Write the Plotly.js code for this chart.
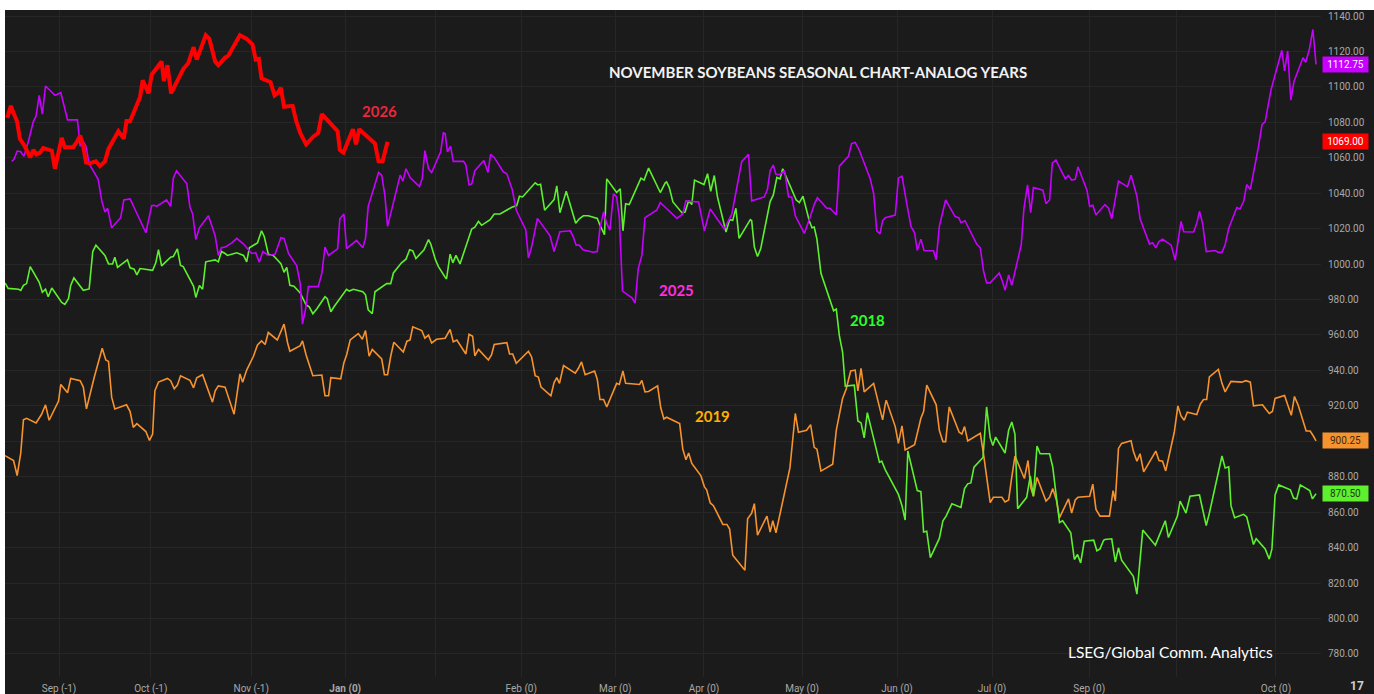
<!DOCTYPE html>
<html><head><meta charset="utf-8">
<script src="https://cdn.plot.ly/plotly-3.0.1.min.js"></script>
<style>
html,body{margin:0;padding:0;background:#ffffff;width:1374px;height:694px;overflow:hidden}
#chart{position:absolute;left:5px;top:10px;width:1369px;height:684px}
</style>
</head><body><div id="chart"></div><script>
// x = trading-day index of the seasonal window, y = price (cents/bu)
const monthTickDays = [12.0,32.4,54.7,75.6,95.6,114.7,135.6,155.3,177.1,198.2,219.3,240.9,260.4,282.4];
const monthTickLabels = ['Sep (-1)','Oct (-1)','Nov (-1)','<b>Jan (0)</b>','','Feb (0)','Mar (0)','Apr (0)','May (0)','Jun (0)','Jul (0)','Sep (0)','','Oct (0)'];
const priceTicks = [780,800,820,840,860,880,900,920,940,960,980,1000,1020,1040,1060,1080,1100,1120,1140];

const y2026 = [[0.5,1082.5],[1.3,1089.3],[2.2,1083.5],[2.7,1080.4],[3.3,1070.8],[4.4,1066.5],[5.6,1060.2],[6.3,1064.4],[7.0,1061.9],[7.8,1062.9],[8.5,1065.5],[10.4,1064.0],[11.1,1053.8],[12.6,1071.2],[13.3,1065.9],[15.2,1066.1],[15.9,1068.7],[16.7,1072.5],[17.3,1067.6],[18.0,1057.4],[18.9,1057.0],[20.2,1058.0],[21.1,1055.3],[22.2,1058.0],[23.0,1065.1],[25.2,1075.0],[26.4,1070.8],[27.0,1080.8],[27.8,1080.8],[30.0,1094.2],[30.6,1103.7],[31.9,1096.3],[32.6,1106.9],[34.8,1114.3],[35.3,1103.3],[36.1,1112.2],[36.9,1096.3],[39.6,1110.1],[40.7,1113.3],[41.9,1122.4],[42.6,1115.4],[44.6,1129.2],[45.4,1127.1],[46.7,1114.3],[47.4,1112.2],[48.9,1116.5],[49.6,1117.5],[51.1,1123.9],[52.2,1129.2],[53.7,1127.1],[55.0,1123.9],[55.7,1115.4],[56.4,1115.8],[57.0,1104.8],[59.0,1102.7],[59.9,1095.2],[60.5,1096.3],[61.3,1099.5],[62.0,1088.8],[63.9,1089.3],[64.7,1080.8],[65.6,1074.0],[66.9,1067.6],[68.5,1071.9],[69.6,1074.0],[70.4,1084.6],[72.2,1079.3],[73.9,1075.0],[74.4,1064.4],[75.2,1062.9],[77.3,1076.1],[78.0,1067.6],[78.7,1076.1],[80.4,1072.3],[82.2,1068.0],[83.0,1058.0],[83.9,1058.0],[85.0,1069.0]];

const y2025 = [[1.5,1058.0],[2.0,1059.1],[2.7,1063.8],[3.5,1063.4],[4.2,1060.8],[5.2,1069.3],[6.3,1080.4],[6.9,1083.5],[7.6,1095.2],[8.3,1084.6],[9.0,1100.5],[11.1,1095.2],[12.4,1096.7],[13.9,1081.4],[16.1,1081.4],[16.7,1066.5],[17.3,1069.7],[18.0,1066.5],[18.7,1056.6],[20.7,1047.9],[21.5,1035.7],[22.2,1029.4],[22.8,1031.5],[23.7,1020.5],[25.7,1026.2],[26.4,1036.2],[27.8,1036.8],[30.0,1025.1],[31.3,1017.7],[32.6,1033.0],[33.1,1033.2],[33.7,1032.6],[35.9,1036.2],[36.8,1032.6],[37.4,1048.5],[38.1,1052.7],[40.4,1045.3],[41.1,1032.1],[41.7,1028.3],[42.4,1013.9],[43.2,1020.5],[45.2,1027.3],[46.7,1016.0],[47.4,1004.9],[48.1,1009.2],[48.9,1009.6],
[50.4,1012.0],[51.5,1014.5],[53.0,1011.3],[54.8,1006.0],[55.7,1006.4],[56.5,1001.1],[57.3,1007.1],[58.5,1004.9],[60.0,1005.6],[61.3,1014.9],[62.0,1014.5],[63.0,1006.0],[64.8,999.2],[65.6,989.0],[66.1,966.1],[66.9,976.3],[67.4,987.3],[69.6,987.3],[70.4,994.8],[71.1,1009.6],[71.9,1004.9],[73.9,1008.6],[74.4,1025.6],[75.3,1028.3],[75.9,1008.8],[78.1,1013.4],[79.5,1009.2],[80.1,1014.5],[80.7,1032.6],[82.0,1043.2],[83.0,1051.7],[83.7,1050.2],[84.4,1038.9],[85.0,1021.3],[87.8,1050.2],[88.4,1046.8],[89.1,1053.8],[90.0,1048.9],[92.1,1043.8],[92.7,1048.1],[93.3,1064.0],[94.1,1053.8],[94.8,1051.7],[96.8,1063.4],[97.4,1074.0],[97.8,1073.6],
[98.3,1063.4],[99.0,1066.5],[99.6,1058.0],[101.9,1058.0],[102.4,1055.9],[103.1,1044.7],[103.7,1045.3],[104.4,1052.7],[106.4,1058.5],[107.3,1051.7],[107.9,1061.9],[108.7,1060.2],[110.7,1052.1],[111.5,1051.0],[112.1,1046.4],[112.7,1042.1],[113.6,1030.4],[115.7,1019.4],[116.3,1003.5],[117.0,1009.6],[118.3,1025.8],[121.1,1016.0],[122.0,1007.1],[123.3,1018.3],[125.6,1018.8],[126.3,1015.2],[126.9,1010.7],[127.6,1010.7],[128.4,1008.1],[130.7,1006.7],[131.6,1007.1],[132.2,1020.5],[133.0,1029.4],[133.7,1023.0],[134.4,1019.2],[135.2,1039.6],[135.9,1037.9],[136.5,1026.2],[137.2,984.8],[139.3,981.0],[140.0,978.0],[140.7,997.5],[141.5,1004.9],[142.2,1026.2],[144.8,1030.4],[145.6,1034.7],[146.7,1032.1],
[147.4,1030.4],[149.3,1025.8],[150.6,1028.3],[151.3,1035.7],[154.1,1035.1],[154.7,1027.3],[155.4,1018.8],[156.7,1031.1],[158.1,1026.2],[159.8,1019.8],[161.5,1028.3],[162.6,1044.2],[163.7,1058.0],[165.2,1061.9],[165.9,1035.7],[167.8,1037.2],[168.7,1037.9],[169.4,1042.1],[170.0,1052.7],[170.7,1055.9],[171.3,1050.6],[172.2,1050.6],[173.2,1052.7],[174.1,1037.9],[174.8,1037.9],[175.6,1027.3],[177.6,1017.3],[178.7,1025.1],[179.8,1033.6],[180.5,1037.5],[181.7,1034.3],[182.6,1031.5],[183.3,1031.5],[184.7,1027.7],[185.4,1055.3],[186.5,1058.0],[187.4,1060.8],[188.1,1068.0],[188.9,1068.7],[189.8,1064.4],[192.2,1048.5],[193.0,1040.0],[193.7,1018.8],[194.4,1017.1],[195.0,1024.5],[195.6,1026.2],
[197.8,1027.7],[198.5,1048.5],[199.3,1049.6],[200.4,1033.6],[201.3,1021.3],[202.1,1017.7],[202.7,1007.7],[203.5,1014.1],[204.2,1007.7],[206.3,1007.5],[206.9,1002.4],[207.6,1021.3],[209.0,1036.2],[211.1,1026.8],[211.9,1026.2],[212.4,1023.4],[213.3,1024.5],[215.9,1011.3],[216.7,1009.2],[217.4,996.4],[218.1,989.4],[218.9,989.4],[220.9,995.0],[221.5,991.1],[222.2,985.2],[223.0,993.9],[223.7,988.0],[225.8,1010.9],[226.4,1031.5],[227.2,1044.7],[227.9,1029.0],[228.5,1043.2],[230.6,1041.7],[231.3,1034.1],[232.1,1036.2],[232.7,1057.0],[233.5,1058.7],[235.6,1048.1],[236.3,1050.0],[237.0,1047.4],[237.8,1047.9],[238.4,1054.9],[240.4,1041.7],[241.0,1032.6],[241.7,1033.2],[242.4,1027.7],[244.4,1033.6],
[245.2,1031.5],[245.9,1025.6],[246.4,1032.6],[247.4,1046.8],[249.4,1043.6],[250.2,1050.2],[251.5,1038.3],[252.2,1025.6],[254.3,1011.3],[255.0,1012.0],[255.7,1009.2],[256.4,1012.8],[257.2,1014.1],[259.1,1010.7],[260.0,1002.2],[261.3,1024.1],[261.9,1018.3],[264.1,1018.1],[264.8,1023.0],[265.4,1029.8],[266.1,1023.0],[266.9,1007.1],[268.9,1007.7],[269.6,1006.6],[270.4,1006.6],[271.1,1010.9],[271.9,1020.2],[273.7,1031.9],[274.4,1031.1],[275.2,1035.3],[275.9,1044.9],[276.7,1042.1],[278.5,1066.1],[279.3,1078.7],[280.0,1080.4],[280.7,1090.5],[281.3,1098.4],[283.7,1120.7],[284.3,1109.0],[285.0,1120.3],[285.7,1092.5],[286.4,1103.1],[288.4,1116.5],[289.0,1113.9],[289.8,1121.1],[290.6,1132.4],[291.3,1112.75]];

const y2018 = [[0.0,989.4],[0.7,986.3],[3.0,985.8],[3.5,985.2],[4.1,988.0],[4.8,989.0],[5.6,998.6],[7.6,989.7],[8.3,984.1],[9.0,985.8],[9.6,981.6],[10.4,986.5],[12.6,978.4],[13.3,977.3],[14.1,980.5],[14.6,988.0],[15.3,992.2],[17.4,985.2],[18.7,986.0],[19.5,1007.1],[20.2,1010.7],[22.2,1004.9],[23.0,1000.1],[23.9,1000.1],[24.4,1003.9],[25.0,998.2],[27.2,1002.4],[27.8,997.9],[28.7,997.1],[29.3,993.9],[30.0,997.5],[32.8,996.5],[33.5,1000.7],[34.1,1008.1],[34.8,999.0],[36.8,1003.9],[37.4,1004.3],[38.3,1008.6],[39.0,999.2],[39.6,998.6],[41.9,987.5],[42.4,981.2],[43.2,988.0],[43.9,985.8],[44.6,1001.3],[46.7,1002.4],[47.4,1001.3],[48.1,1007.1],[48.9,1006.0],
[49.4,1004.9],[51.5,1006.4],[53.0,1004.9],[53.7,1001.3],[54.3,1009.2],[56.1,1012.0],[57.0,1018.8],[57.6,1015.6],[58.5,1005.6],[59.6,1004.9],[61.3,1000.3],[62.0,995.4],[62.6,998.2],[63.3,988.0],[64.2,987.5],[65.6,983.7],[66.9,976.9],[67.6,975.9],[68.4,972.0],[69.3,974.8],[71.1,981.6],[71.6,980.5],[72.4,973.1],[73.1,975.9],[75.3,983.3],[75.9,985.8],[76.5,984.8],[77.4,985.8],[79.5,984.4],[80.1,982.7],[80.7,974.2],[81.6,972.0],[82.2,984.4],[84.8,989.0],[85.7,989.0],[86.3,995.0],[88.1,1000.7],[89.1,1002.8],[89.9,1008.1],[90.6,1007.5],[91.3,1003.2],[93.1,1008.1],[94.1,1013.9],[94.6,1011.3],[95.6,1002.8],[96.3,998.6],[97.8,992.6],
[98.1,991.6],[98.9,1005.6],[99.5,1000.7],[100.2,1004.9],[101.1,1000.1],[103.7,1019.8],[104.4,1020.9],[105.2,1024.1],[105.9,1021.9],[107.8,1025.1],[108.7,1028.3],[110.0,1028.3],[112.6,1032.1],[113.7,1033.0],[114.3,1038.3],[115.0,1037.9],[117.0,1043.2],[117.8,1045.9],[118.4,1044.7],[119.0,1045.1],[119.9,1030.4],[122.0,1036.4],[122.6,1044.2],[123.3,1029.0],[124.7,1041.1],[126.8,1023.0],[127.6,1025.6],[128.5,1027.3],[129.6,1027.3],[131.6,1025.8],[132.2,1021.9],[133.2,1016.6],[133.7,1048.1],[135.9,1040.4],[136.7,1042.5],[137.3,1018.8],[137.9,1034.1],[138.7,1033.6],[141.3,1048.5],[142.0,1047.4],[143.0,1054.2],[145.6,1040.4],[146.7,1045.9],
[147.0,1046.4],[147.6,1043.2],[148.4,1035.1],[150.4,1029.0],[151.1,1029.4],[151.9,1035.7],[152.6,1033.6],[153.2,1047.4],[155.3,1044.9],[156.1,1051.0],[156.8,1041.1],[157.6,1050.0],[158.3,1037.9],[160.2,1018.1],[161.0,1025.1],[161.7,1024.7],[162.4,1031.5],[163.1,1014.5],[165.6,1025.1],[165.9,1024.5],[166.5,1009.6],[167.2,1004.3],[167.9,1008.6],[170.0,1035.3],[170.7,1038.9],[171.5,1048.9],[172.2,1048.1],[172.8,1053.8],[173.7,1048.5],[175.0,1041.1],[175.8,1036.2],[176.5,1034.7],[177.3,1038.3],[178.7,1024.5],[179.3,1020.5],[179.8,1020.9],[180.4,1014.1],[181.3,994.8],[184.1,973.7],[184.7,974.6],[185.4,959.3],[186.1,950.4],[186.7,931.2],[188.7,931.7],[189.5,911.5],[190.2,910.4],[190.9,901.9],[191.6,916.2],[194.3,888.1],[194.8,888.8],[195.6,883.9],
[198.5,870.1],[199.3,863.7],[200.0,855.6],[200.6,894.5],[202.7,872.2],[203.5,871.6],[204.1,848.8],[204.8,849.3],[205.6,834.4],[207.6,845.2],[208.4,855.2],[209.1,857.8],[210.4,864.8],[212.4,862.7],[213.2,873.3],[213.9,876.0],[214.6,876.5],[215.3,885.4],[217.3,890.9],[218.1,919.4],[218.9,902.0],[219.5,897.7],[220.1,902.4],[222.2,893.4],[223.0,906.2],[223.7,910.9],[224.4,904.1],[225.0,862.0],[227.0,868.4],[227.8,880.3],[228.5,869.0],[229.3,897.3],[230.0,893.0],[232.1,893.0],[232.8,885.4],[233.6,869.7],[234.3,854.2],[235.0,855.2],[236.8,848.4],[237.6,833.3],[238.3,836.1],[239.0,831.4],[239.8,843.6],[241.9,844.2],[242.6,838.2],[243.3,839.3],[244.1,844.2],[244.4,844.6],
[245.9,845.0],[246.7,831.9],[247.4,839.9],[248.1,832.9],[250.7,823.8],[251.5,813.8],[252.8,849.9],[255.6,841.4],[257.8,855.2],[258.5,845.7],[260.5,857.8],[261.1,866.3],[262.4,859.5],[263.3,869.0],[265.4,869.7],[266.9,852.5],[267.6,859.5],[270.4,891.7],[271.1,884.9],[271.9,885.6],[272.4,863.7],[273.2,856.9],[275.2,858.8],[275.9,857.3],[277.4,841.8],[278.0,845.0],[280.0,839.3],[280.9,833.5],[281.5,839.3],[282.2,869.7],[283.0,875.4],[285.6,872.6],[286.3,868.0],[287.0,867.5],[287.8,875.4],[289.9,872.2],[290.5,867.5],[291.3,870.5]];

const y2019 = [[0.0,891.9],[1.9,889.2],[2.7,880.7],[3.5,893.4],[4.1,912.1],[4.8,913.0],[6.9,910.4],[8.1,915.1],[9.0,920.6],[9.8,911.9],[11.9,922.7],[12.4,932.1],[13.9,927.4],[14.6,935.5],[16.7,934.2],[17.4,930.6],[18.1,918.3],[19.8,935.9],[21.6,952.5],[22.4,945.9],[23.0,945.1],[23.7,924.9],[24.4,918.3],[27.0,920.6],[27.8,916.8],[28.5,907.9],[29.3,910.0],[31.3,905.5],[32.1,900.5],[32.8,904.1],[33.3,928.5],[34.1,933.4],[36.1,935.5],[36.8,934.2],[37.6,929.6],[38.3,931.7],[39.0,937.0],[41.1,934.4],[41.9,930.2],[42.6,935.9],[43.9,937.6],[46.1,922.1],[46.7,928.5],[47.4,931.3],[48.9,930.6],
[50.9,915.3],[52.2,938.0],[52.8,933.4],[53.7,940.2],[55.2,948.0],[56.1,954.4],[57.0,956.7],[57.8,954.6],[58.5,961.4],[60.5,957.2],[62.0,966.1],[62.8,955.5],[63.3,950.8],[65.6,954.0],[66.1,956.7],[66.9,948.7],[68.4,937.0],[70.4,937.4],[71.1,925.7],[71.9,925.7],[72.4,935.9],[74.6,935.3],[75.3,944.4],[75.9,948.7],[76.7,957.2],[78.5,960.8],[79.4,957.6],[80.1,962.5],[80.9,948.0],[81.6,951.9],[83.7,946.5],[84.3,937.6],[85.0,937.6],[85.7,948.0],[86.4,955.9],[88.5,950.4],[89.3,956.5],[90.0,957.2],[90.6,964.6],[92.6,962.5],[93.3,958.2],[94.1,959.9],[94.8,955.5],[95.9,957.6],[97.8,958.2],
[98.9,963.1],[99.6,956.1],[100.4,957.2],[102.4,949.3],[103.1,960.4],[103.9,959.3],[104.4,948.2],[105.2,951.9],[107.4,945.9],[108.1,948.7],[108.7,954.6],[111.5,955.7],[112.1,949.3],[112.8,949.3],[113.6,944.0],[116.3,950.8],[117.0,947.6],[117.8,937.0],[118.5,936.3],[119.1,930.6],[121.3,925.7],[122.0,933.2],[122.6,935.9],[123.2,932.7],[124.1,942.7],[126.7,938.5],[127.4,941.2],[128.1,944.8],[128.9,937.6],[131.0,939.7],[131.6,934.9],[132.2,923.6],[133.0,923.6],[133.7,919.4],[135.9,932.7],[136.5,932.1],[137.3,939.7],[137.9,932.7],[141.0,932.1],[141.5,934.4],[142.2,927.9],[143.0,928.1],[145.0,931.3],[145.7,918.9],[146.4,912.6],
[147.0,913.6],[149.9,910.0],[150.6,895.6],[151.3,889.6],[151.9,893.4],[152.6,887.5],[154.6,880.7],[155.4,874.3],[155.9,872.6],[156.7,865.2],[157.4,863.7],[159.5,853.1],[160.4,853.1],[161.0,850.5],[161.7,835.7],[164.4,827.2],[165.0,856.3],[165.9,859.5],[166.5,864.8],[167.2,847.1],[169.3,857.8],[170.0,848.8],[170.6,855.2],[171.3,848.4],[172.2,859.5],[173.6,875.4],[174.4,885.0],[175.6,915.7],[176.3,905.1],[178.1,906.2],[179.0,909.4],[179.8,896.6],[180.4,895.6],[181.3,883.2],[183.9,887.1],[184.7,906.2],[185.4,916.4],[186.1,924.2],[186.9,929.5],[187.9,939.7],[188.9,940.2],[189.5,928.5],[190.2,941.2],[190.9,927.9],[193.0,932.7],[195.0,912.1],[195.6,921.1],
[195.8,923.2],[197.8,908.3],[198.5,898.8],[199.3,908.7],[200.0,895.1],[202.1,898.1],[202.7,905.1],[203.5,913.0],[204.1,916.8],[204.8,931.7],[206.9,920.6],[207.6,906.2],[208.4,899.8],[209.0,899.8],[209.8,919.4],[212.0,905.1],[212.6,904.1],[213.2,908.3],[213.9,900.2],[216.7,904.5],[217.4,893.0],[218.1,880.7],[218.9,865.4],[219.6,868.4],[221.5,868.4],[222.2,865.8],[223.0,866.9],[223.6,878.1],[224.4,891.7],[226.5,879.0],[227.3,889.2],[227.9,873.9],[228.5,869.0],[229.3,879.6],[231.3,866.3],[232.1,868.4],[232.8,873.3],[233.6,866.9],[234.3,856.9],[236.3,867.5],[237.0,859.5],[237.8,866.9],[238.4,868.4],[241.0,869.0],[241.7,875.8],[242.4,861.6],[243.3,857.8],[244.4,857.8],
[245.4,857.8],[246.2,872.2],[246.7,866.3],[247.4,896.0],[248.1,898.8],[250.2,900.3],[250.7,894.5],[251.5,888.8],[252.2,893.0],[253.0,882.8],[255.7,894.5],[256.4,889.2],[257.2,888.8],[257.9,883.3],[259.8,905.1],[260.6,920.0],[261.3,914.3],[262.0,911.9],[262.7,916.4],[264.8,915.1],[265.6,921.1],[266.3,923.6],[267.0,923.6],[267.6,936.4],[269.6,940.6],[270.4,932.7],[271.1,927.9],[272.4,933.8],[274.8,933.4],[275.7,934.2],[276.7,933.4],[277.4,920.0],[279.4,920.6],[280.2,917.9],[280.9,915.7],[281.6,916.8],[282.2,924.2],[284.3,925.9],[285.0,920.0],[285.8,914.7],[286.5,925.3],[287.3,920.6],[289.1,905.8],[290.0,905.8],[290.7,903.0],[291.3,900.25]];

const seriesNames = ['2019','2018','2025','2026'];
const seriesColors = {'2019':'#f7932f','2018':'#5ef02f','2025':'#c800ff','2026':'#ff0000'};
const labelColors = {'2019':'#ffb000','2018':'#2bff2b','2025':'#ff2ee0','2026':'#e8283c'};

const seriesData = {'2019':y2019,'2018':y2018,'2025':y2025,'2026':y2026};
const traces = seriesNames.map(n => ({
  type:'scatter', mode:'lines', name:n,
  x: seriesData[n].map(p=>p[0]), y: seriesData[n].map(p=>p[1]),
  line:{color:seriesColors[n], width: n==='2026'?4:1.6, shape:'linear'},
  hoverinfo:'skip'
}));

const fontMain = 'Lato, "Open Sans", sans-serif';
const annotations = [
  {xref:'x',yref:'y',x:180.7,y:1108.4,text:'<b>NOVEMBER SOYBEANS SEASONAL CHART-ANALOG YEARS</b>',showarrow:false,font:{family:fontMain,size:15,color:'#f2f2f2'}},
  {xref:'x',yref:'y',x:83.3,y:1086.4,text:'<b>2026</b>',showarrow:false,font:{family:fontMain,size:15,color:labelColors['2026']}},
  {xref:'x',yref:'y',x:149.1,y:985.4,text:'<b>2025</b>',showarrow:false,font:{family:fontMain,size:15,color:labelColors['2025']}},
  {xref:'x',yref:'y',x:191.6,y:968.4,text:'<b>2018</b>',showarrow:false,font:{family:fontMain,size:15,color:labelColors['2018']}},
  {xref:'x',yref:'y',x:157.3,y:914.3,text:'<b>2019</b>',showarrow:false,font:{family:fontMain,size:15,color:labelColors['2019']}},
  {xref:'x',yref:'y',x:258.9,y:781.1,text:'LSEG/Global Comm. Analytics',showarrow:false,font:{family:fontMain,size:15.5,color:'#ffffff'}},
  {xref:'paper',yref:'paper',x:1.0274,y:-0.0135,xanchor:'center',yanchor:'middle',text:'<b>17</b>',showarrow:false,font:{family:'Roboto, sans-serif',size:12,color:'#d0d0d0'}}
];
const lastVals = [[1112.75,'#c800ff','#ffffff'],[1069.00,'#ff0000','#ffffff'],[900.25,'#f7932f','#3a2a10'],[870.50,'#5ef02f','#1f3a10']];
lastVals.forEach(v => annotations.push({
  xref:'paper',yref:'y',x:1,xanchor:'left',xshift:1,y:v[0],yanchor:'middle',
  text:v[0].toFixed(2),showarrow:false,bgcolor:v[1],width:43,height:13,borderpad:1,
  font:{family:'Roboto, sans-serif',size:10,color:v[2]}
}));

const layout = {
  width:1369, height:684,
  paper_bgcolor:'#1b1b1b', plot_bgcolor:'#1b1b1b',
  margin:{l:0,r:53,t:0,b:17},
  showlegend:false,
  xaxis:{range:[0,292.4],tickmode:'array',tickvals:monthTickDays,ticktext:monthTickLabels,
    showgrid:true,gridcolor:'#262626',gridwidth:1,zeroline:false,showline:false,ticks:'',
    ticklabelstandoff:4,
    tickfont:{family:'Roboto, sans-serif',size:10,color:'#a8a8a8'},fixedrange:true},
  yaxis:{range:[767.0,1143.4],side:'right',tickmode:'array',tickvals:priceTicks,
    tickformat:'.2f',showgrid:true,gridcolor:'#262626',gridwidth:1,zeroline:false,showline:false,ticks:'',
    ticklabelstandoff:6,tickfont:{family:'Roboto, sans-serif',size:10,color:'#a8a8a8'},fixedrange:true},
  annotations:annotations
};
Plotly.newPlot('chart', traces, layout, {displayModeBar:false, staticPlot:true});
</script></body></html>
